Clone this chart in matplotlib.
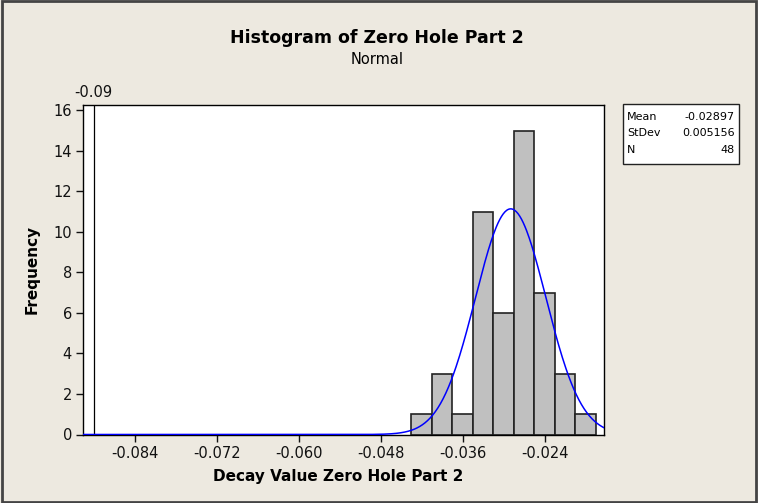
import numpy as np
import matplotlib
matplotlib.use("Agg")
import matplotlib.pyplot as plt
from matplotlib.patches import Rectangle

bin_centers = [-0.042, -0.039, -0.036, -0.033, -0.030, -0.027, -0.024, -0.021, -0.018]
counts = [1, 3, 1, 11, 6, 15, 7, 3, 1]
bin_width = 0.003
mean = -0.02897
stdev = 0.005156
n = 48
ref_line = -0.09
xticks = [-0.084, -0.072, -0.060, -0.048, -0.036, -0.024]
xtick_labels = ["-0.084", "-0.072", "-0.060", "-0.048", "-0.036", "-0.024"]
yticks = [0, 2, 4, 6, 8, 10, 12, 14, 16]

bg = "#EDE9E0"
fig = plt.figure(figsize=(7.58, 5.03), dpi=100, facecolor=bg)
ax = fig.add_axes([83/758, 1-434.5/503, (603.7-83)/758, (434.5-105)/503])
ax.set_facecolor("white")

ax.bar(bin_centers, counts, width=bin_width, color="#C0C0C0", edgecolor="#222222", linewidth=1.2, zorder=2)
xs = np.linspace(-0.0916, -0.0153, 600)
ys = n * bin_width / (stdev * np.sqrt(2*np.pi)) * np.exp(-0.5*((xs-mean)/stdev)**2)
ax.plot(xs, ys, color="#0000FF", linewidth=1.1, zorder=3)
ax.axvline(ref_line, color="black", linewidth=0.9, zorder=1)
ax.text(ref_line, 16.5, "-0.09", ha="center", va="bottom", fontsize=10.5, color="#111111")

ax.set_xlim(-0.09157, -0.01536)
ax.set_ylim(0, 16.27)
ax.set_xticks(xticks)
ax.set_xticklabels(xtick_labels)
ax.set_yticks(yticks)
ax.tick_params(direction="out", length=5, width=1, labelsize=10.5, colors="#111111", pad=3)
for s in ax.spines.values():
    s.set_color("black")
    s.set_linewidth(1.0)

ax.set_xlabel("Decay Value Zero Hole Part 2", fontsize=11, fontweight="bold", labelpad=6)
ax.xaxis.set_label_coords(0.49, -0.105)
ax.set_ylabel("Frequency", fontsize=11, fontweight="bold", labelpad=10)

fig.text(0.497, 1-38/503, "Histogram of Zero Hole Part 2", ha="center", va="center", fontsize=12.5, fontweight="bold")
fig.text(0.497, 1-60/503, "Normal", ha="center", va="center", fontsize=10.5)

# stats box
bx0, by0, bx1, by1 = 622.7, 104.3, 739, 164
fig.patches.append(Rectangle((bx0/758, 1-by1/503), (bx1-bx0)/758, (by1-by0)/503,
                             transform=fig.transFigure, facecolor="white", edgecolor="#222222", linewidth=1.0))
labels = ["Mean", "StDev", "N"]
vals = ["%.5f" % mean, "%.6f" % stdev, "%d" % n]
for i, (l, v) in enumerate(zip(labels, vals)):
    yy = 1 - (117 + 16.5*i)/503
    fig.text(627/758, yy, l, ha="left", va="center", fontsize=8)
    fig.text(735/758, yy, v, ha="right", va="center", fontsize=8)

# figure border
fig.patches.append(Rectangle((0.002, 0.002), 0.996, 0.996, transform=fig.transFigure,
                             facecolor="none", edgecolor="#444444", linewidth=2))

fig.savefig("out.png", dpi=100, facecolor=bg)
